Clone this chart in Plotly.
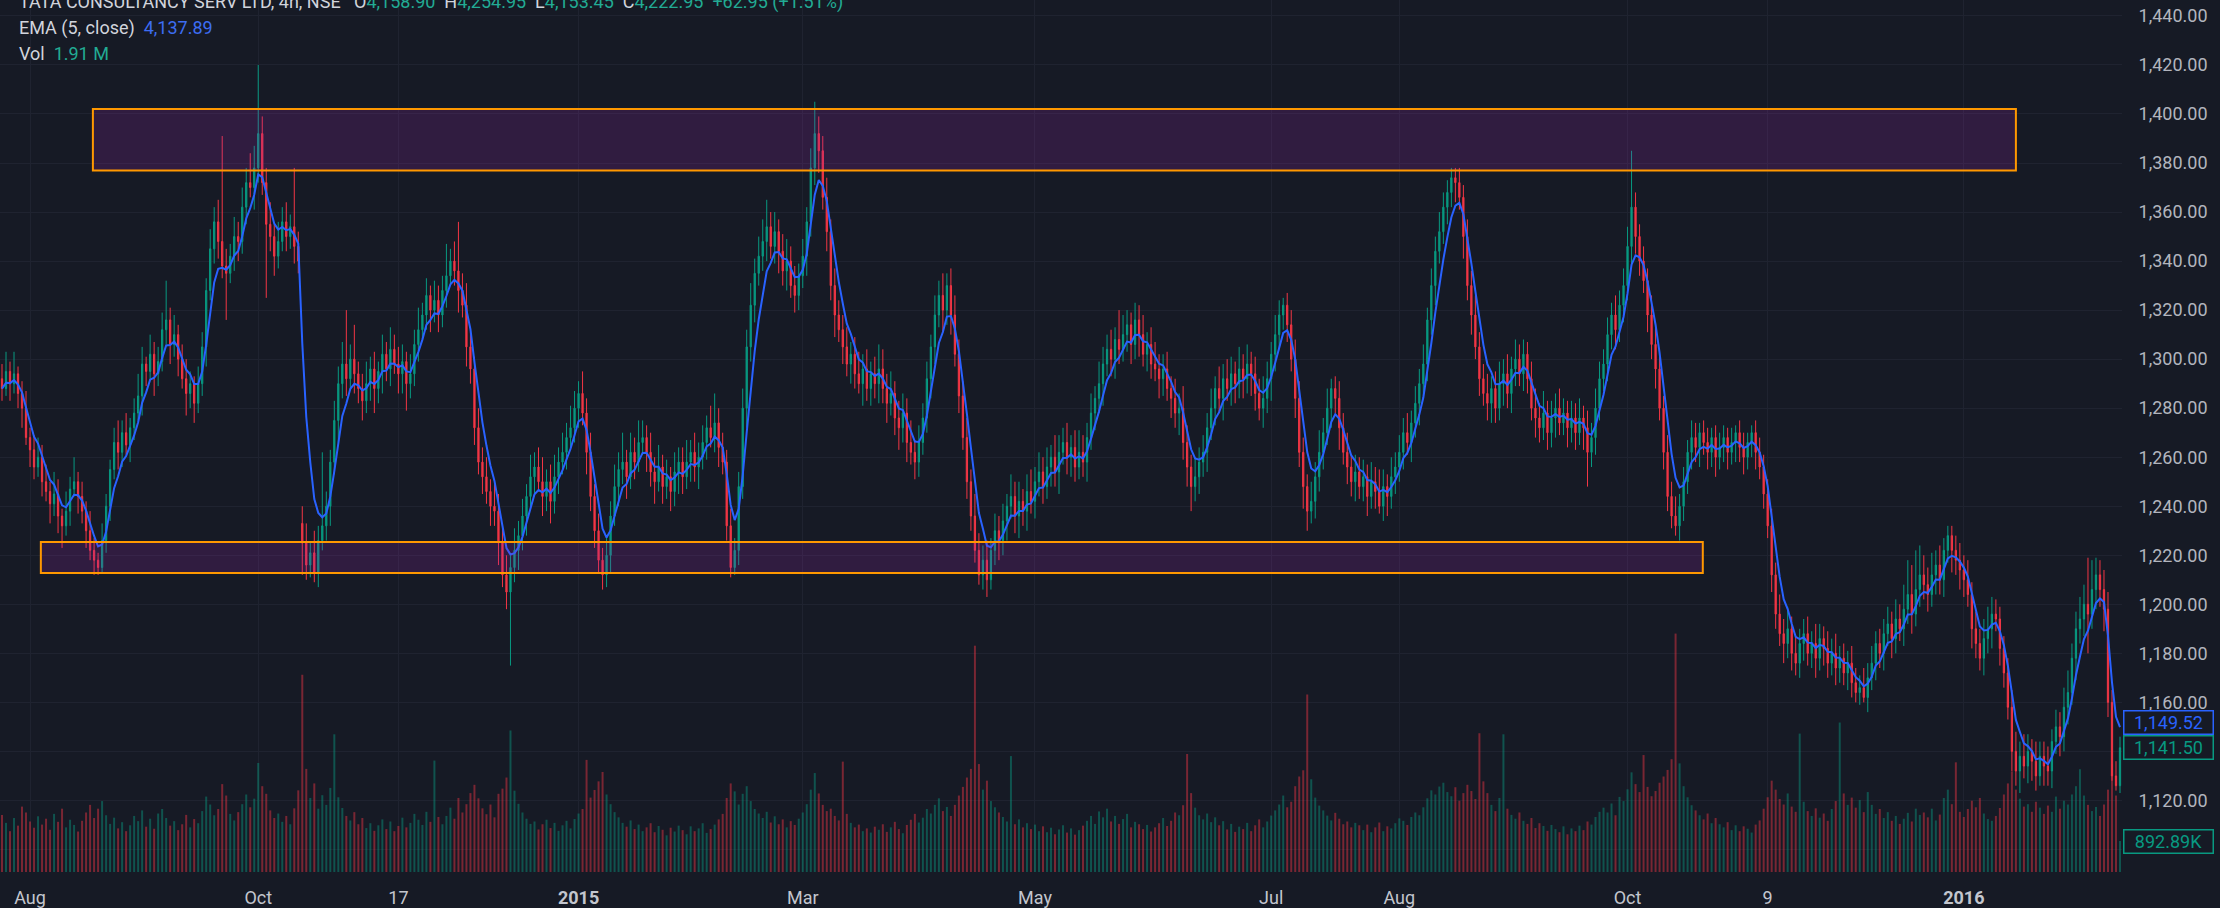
import plotly.graph_objects as go
import pandas as pd

# ---------------- data ----------------
open_ = [
    1292, 1288, 1295, 1290, 1294, 1286, 1280, 1268, 1263, 1256,
    1260, 1250, 1246, 1241, 1245, 1236, 1232, 1238, 1247, 1250,
    1244, 1238, 1230, 1222, 1218, 1215, 1226, 1240, 1255, 1266,
    1262, 1270, 1265, 1272, 1278, 1285, 1298, 1295, 1302, 1294,
    1299, 1312, 1316, 1306, 1310, 1300, 1292, 1286, 1290, 1282,
    1290, 1305, 1328, 1345, 1356, 1348, 1338, 1335, 1342, 1350,
    1348, 1362, 1372, 1370, 1378, 1392, 1372, 1355, 1350, 1342,
    1348, 1356, 1350, 1354, 1346, 1233, 1225, 1216, 1221, 1213,
    1226, 1232, 1240, 1258, 1275, 1290, 1298, 1292, 1300, 1294,
    1288, 1283, 1290, 1296, 1288, 1295, 1302, 1296, 1304, 1298,
    1294, 1299, 1290, 1294, 1306, 1312, 1318, 1326, 1320, 1324,
    1318, 1328, 1334, 1340, 1336, 1328, 1322, 1305, 1296, 1272,
    1258, 1252, 1246, 1240, 1238, 1225, 1212, 1205, 1215, 1222,
    1228, 1236, 1244, 1252, 1256, 1250, 1244, 1250, 1242, 1252,
    1258, 1262, 1268, 1272, 1280, 1286, 1278, 1262, 1244, 1230,
    1218, 1212, 1220, 1236, 1248, 1255, 1258, 1252, 1262, 1258,
    1266, 1268, 1262, 1254, 1250, 1256, 1248, 1252, 1246, 1254,
    1258, 1252, 1258, 1262, 1256, 1260, 1266, 1272, 1268, 1274,
    1264, 1258, 1232, 1215, 1222, 1248, 1280, 1305, 1322, 1335,
    1342, 1348, 1354, 1346, 1352, 1344, 1336, 1340, 1330, 1326,
    1334, 1342, 1356, 1378, 1392, 1385, 1366, 1352, 1330, 1318,
    1312, 1305, 1298, 1302, 1294, 1290, 1296, 1288, 1294, 1290,
    1296, 1288, 1282, 1286, 1276, 1272, 1278, 1266, 1262, 1258,
    1266, 1276, 1292, 1305, 1318, 1326, 1320, 1330, 1318, 1302,
    1285, 1268, 1250, 1236, 1222, 1212, 1218, 1210, 1222, 1230,
    1226, 1234, 1240, 1244, 1236, 1242, 1238, 1246, 1242, 1250,
    1254, 1248, 1256, 1260, 1254, 1262, 1266, 1260, 1264, 1256,
    1262, 1258, 1268, 1278, 1284, 1290, 1298, 1304, 1300, 1308,
    1304, 1310, 1314, 1306, 1316, 1310, 1302, 1306, 1298, 1296,
    1292, 1296, 1288, 1284, 1278, 1280, 1266, 1256, 1248, 1252,
    1258, 1262, 1272, 1280, 1288, 1284, 1292, 1288, 1294, 1290,
    1296, 1292, 1298, 1294, 1286, 1280, 1284, 1292, 1302, 1310,
    1318, 1322, 1314, 1300, 1284, 1262, 1248, 1238, 1242, 1252,
    1262, 1270, 1280, 1288, 1284, 1272, 1262, 1256, 1250, 1254,
    1248, 1252, 1244, 1250, 1246, 1240, 1248, 1244, 1252, 1256,
    1262, 1270, 1266, 1274, 1282, 1290, 1298, 1316, 1330, 1344,
    1352, 1362, 1368, 1374, 1372, 1366, 1350, 1330, 1318, 1305,
    1292, 1286, 1282, 1288, 1280, 1290, 1294, 1286, 1296, 1300,
    1294, 1302, 1292, 1280, 1276, 1272, 1278, 1270, 1276, 1280,
    1274, 1278, 1272, 1276, 1270, 1276, 1272, 1262, 1268, 1280,
    1292, 1298, 1310, 1318, 1312, 1322, 1330, 1346, 1362, 1350,
    1340, 1332, 1318, 1306, 1296, 1280, 1262, 1244, 1236, 1232,
    1240, 1250, 1262, 1268, 1264, 1270, 1266, 1262, 1268, 1260,
    1264, 1268, 1262, 1266, 1270, 1264, 1260, 1266, 1270, 1262,
    1256, 1245, 1232, 1212, 1196, 1188, 1184, 1190, 1180, 1176,
    1184, 1188, 1180, 1184, 1178, 1186, 1182, 1176, 1180, 1174,
    1178, 1172, 1176, 1168, 1164, 1166, 1162, 1170, 1176, 1184,
    1180, 1188, 1192, 1186, 1194, 1190, 1198, 1204, 1196, 1206,
    1212, 1208, 1204, 1212, 1216, 1210, 1222, 1228, 1222, 1218,
    1214, 1210, 1204, 1190, 1184, 1178, 1186, 1190, 1196, 1194,
    1182, 1172, 1158, 1140, 1132, 1138, 1134, 1140, 1136, 1130,
    1138, 1134, 1132, 1144, 1150, 1146, 1158, 1164, 1178, 1190,
    1194, 1200, 1196, 1206, 1212, 1206, 1198, 1160, 1130, 1126,
]

high = [
    1298, 1303, 1299, 1303, 1297, 1291, 1287, 1272, 1269, 1268,
    1265, 1257, 1250, 1254, 1251, 1239, 1246, 1252, 1260, 1254,
    1250, 1242, 1238, 1227, 1221, 1233, 1245, 1259, 1272, 1275,
    1275, 1278, 1276, 1284, 1294, 1305, 1301, 1310, 1307, 1305,
    1319, 1332, 1321, 1318, 1314, 1306, 1300, 1295, 1293, 1297,
    1311, 1333, 1353, 1362, 1365, 1391, 1345, 1347, 1358, 1356,
    1370, 1378, 1384, 1387, 1420, 1399, 1378, 1364, 1355, 1356,
    1362, 1364, 1359, 1378, 1352, 1240, 1233, 1225, 1230, 1232,
    1262, 1246, 1263, 1283, 1297, 1307, 1320, 1306, 1314, 1299,
    1294, 1299, 1301, 1303, 1299, 1310, 1307, 1313, 1310, 1305,
    1306, 1303, 1302, 1312, 1321, 1323, 1333, 1330, 1332, 1330,
    1334, 1347, 1345, 1348, 1356, 1335, 1331, 1311, 1301, 1280,
    1264, 1260, 1251, 1249, 1245, 1231, 1220, 1220, 1231, 1234,
    1243, 1249, 1261, 1262, 1264, 1260, 1255, 1257, 1261, 1264,
    1270, 1274, 1281, 1287, 1291, 1295, 1284, 1270, 1249, 1237,
    1223, 1228, 1242, 1257, 1262, 1270, 1263, 1270, 1268, 1275,
    1275, 1273, 1270, 1260, 1265, 1261, 1259, 1256, 1262, 1264,
    1264, 1267, 1267, 1270, 1266, 1273, 1277, 1281, 1286, 1280,
    1270, 1263, 1239, 1227, 1254, 1288, 1312, 1331, 1341, 1350,
    1357, 1365, 1360, 1360, 1357, 1351, 1349, 1346, 1338, 1339,
    1349, 1362, 1386, 1405, 1399, 1391, 1374, 1357, 1337, 1324,
    1318, 1313, 1307, 1309, 1303, 1302, 1304, 1299, 1301, 1306,
    1304, 1294, 1295, 1291, 1283, 1286, 1284, 1275, 1267, 1273,
    1282, 1299, 1310, 1326, 1332, 1335, 1335, 1337, 1326, 1308,
    1291, 1276, 1255, 1245, 1229, 1224, 1226, 1227, 1237, 1236,
    1241, 1245, 1253, 1250, 1250, 1247, 1253, 1255, 1256, 1262,
    1260, 1264, 1265, 1269, 1269, 1272, 1274, 1269, 1271, 1271,
    1269, 1274, 1286, 1289, 1299, 1305, 1310, 1312, 1313, 1320,
    1318, 1320, 1319, 1323, 1322, 1318, 1311, 1313, 1307, 1302,
    1302, 1303, 1293, 1292, 1286, 1289, 1273, 1261, 1260, 1264,
    1269, 1278, 1288, 1293, 1297, 1298, 1300, 1301, 1299, 1305,
    1302, 1306, 1303, 1301, 1292, 1293, 1299, 1307, 1318, 1324,
    1325, 1327, 1320, 1308, 1291, 1268, 1253, 1250, 1258, 1271,
    1276, 1288, 1292, 1293, 1291, 1278, 1270, 1261, 1261, 1260,
    1259, 1257, 1258, 1256, 1255, 1255, 1253, 1260, 1262, 1269,
    1276, 1278, 1279, 1289, 1296, 1306, 1321, 1337, 1350, 1360,
    1368, 1373, 1378, 1378, 1378, 1371, 1357, 1336, 1326, 1311,
    1298, 1294, 1293, 1295, 1299, 1300, 1302, 1301, 1308, 1306,
    1308, 1307, 1299, 1288, 1282, 1287, 1283, 1283, 1286, 1288,
    1284, 1283, 1283, 1282, 1284, 1281, 1279, 1274, 1288, 1299,
    1304, 1317, 1323, 1326, 1328, 1337, 1354, 1385, 1368, 1355,
    1346, 1337, 1326, 1313, 1302, 1285, 1269, 1250, 1244, 1245,
    1256, 1267, 1275, 1274, 1274, 1275, 1272, 1272, 1273, 1270,
    1273, 1272, 1272, 1273, 1275, 1270, 1270, 1273, 1275, 1268,
    1261, 1251, 1239, 1217, 1204, 1194, 1199, 1195, 1187, 1190,
    1194, 1195, 1189, 1192, 1192, 1191, 1189, 1186, 1188, 1183,
    1184, 1181, 1183, 1174, 1171, 1174, 1176, 1183, 1189, 1190,
    1194, 1199, 1197, 1202, 1200, 1208, 1218, 1216, 1222, 1224,
    1220, 1215, 1221, 1222, 1224, 1227, 1232, 1232, 1228, 1225,
    1220, 1218, 1209, 1197, 1190, 1194, 1199, 1203, 1202, 1199,
    1187, 1178, 1165, 1148, 1144, 1147, 1147, 1145, 1144, 1144,
    1144, 1142, 1149, 1157, 1156, 1166, 1173, 1184, 1197, 1203,
    1208, 1219, 1218, 1219, 1218, 1214, 1205, 1165, 1136, 1146,
]

low = [
    1283, 1285, 1283, 1286, 1280, 1272, 1265, 1256, 1251, 1252,
    1244, 1242, 1233, 1236, 1229, 1223, 1228, 1232, 1244, 1237,
    1233, 1223, 1218, 1212, 1212, 1213, 1221, 1234, 1251, 1255,
    1256, 1261, 1258, 1267, 1275, 1277, 1289, 1291, 1285, 1289,
    1295, 1306, 1298, 1301, 1293, 1288, 1277, 1280, 1274, 1278,
    1285, 1297, 1324, 1339, 1341, 1333, 1316, 1331, 1336, 1340,
    1343, 1355, 1366, 1361, 1372, 1367, 1325, 1344, 1334, 1337,
    1344, 1344, 1345, 1339, 1335, 1212, 1210, 1211, 1209, 1207,
    1222, 1226, 1232, 1253, 1266, 1284, 1285, 1288, 1286, 1282,
    1275, 1278, 1283, 1278, 1282, 1286, 1291, 1289, 1294, 1286,
    1286, 1279, 1284, 1289, 1299, 1308, 1312, 1311, 1315, 1311,
    1313, 1321, 1330, 1330, 1319, 1317, 1297, 1290, 1265, 1253,
    1245, 1241, 1232, 1232, 1216, 1207, 1198, 1175, 1209, 1214,
    1222, 1228, 1239, 1245, 1246, 1236, 1238, 1233, 1237, 1245,
    1253, 1255, 1264, 1266, 1272, 1273, 1253, 1238, 1223, 1213,
    1206, 1207, 1213, 1232, 1240, 1249, 1243, 1247, 1251, 1254,
    1261, 1254, 1248, 1241, 1246, 1241, 1243, 1238, 1240, 1245,
    1245, 1247, 1250, 1250, 1247, 1255, 1259, 1264, 1262, 1256,
    1253, 1226, 1211, 1212, 1216, 1243, 1272, 1299, 1315, 1330,
    1336, 1340, 1341, 1339, 1335, 1330, 1328, 1325, 1319, 1320,
    1329, 1334, 1350, 1371, 1376, 1361, 1344, 1324, 1309, 1307,
    1298, 1293, 1290, 1288, 1286, 1281, 1283, 1281, 1284, 1282,
    1282, 1274, 1277, 1269, 1263, 1266, 1258, 1257, 1251, 1252,
    1261, 1270, 1284, 1298, 1313, 1311, 1314, 1310, 1297, 1278,
    1263, 1243, 1230, 1217, 1208, 1206, 1203, 1206, 1216, 1218,
    1220, 1226, 1235, 1229, 1227, 1232, 1230, 1237, 1235, 1244,
    1241, 1243, 1248, 1248, 1245, 1257, 1253, 1252, 1250, 1251,
    1252, 1250, 1263, 1271, 1278, 1281, 1293, 1293, 1292, 1298,
    1299, 1303, 1298, 1300, 1301, 1297, 1295, 1292, 1291, 1284,
    1285, 1283, 1276, 1272, 1269, 1259, 1248, 1238, 1242, 1245,
    1252, 1254, 1267, 1273, 1278, 1275, 1283, 1281, 1282, 1284,
    1284, 1286, 1285, 1279, 1275, 1272, 1278, 1283, 1295, 1304,
    1312, 1307, 1295, 1276, 1256, 1239, 1230, 1233, 1235, 1246,
    1255, 1265, 1272, 1278, 1263, 1257, 1249, 1244, 1242, 1243,
    1242, 1236, 1239, 1239, 1237, 1234, 1236, 1239, 1245, 1250,
    1255, 1261, 1258, 1268, 1273, 1285, 1291, 1310, 1322, 1339,
    1347, 1355, 1362, 1364, 1361, 1341, 1324, 1310, 1300, 1285,
    1281, 1275, 1274, 1274, 1275, 1281, 1280, 1278, 1289, 1289,
    1287, 1286, 1275, 1268, 1266, 1267, 1263, 1264, 1268, 1269,
    1269, 1264, 1266, 1263, 1265, 1263, 1248, 1256, 1261, 1275,
    1287, 1291, 1304, 1304, 1307, 1315, 1324, 1338, 1343, 1334,
    1327, 1311, 1300, 1288, 1275, 1255, 1238, 1231, 1228, 1226,
    1234, 1245, 1255, 1258, 1256, 1261, 1255, 1256, 1252, 1255,
    1258, 1255, 1257, 1258, 1258, 1253, 1255, 1260, 1255, 1251,
    1239, 1227, 1205, 1190, 1183, 1176, 1178, 1173, 1171, 1170,
    1177, 1175, 1174, 1170, 1173, 1175, 1170, 1171, 1167, 1168,
    1167, 1165, 1162, 1160, 1159, 1160, 1156, 1165, 1169, 1174,
    1173, 1183, 1178, 1180, 1185, 1183, 1192, 1188, 1191, 1199,
    1202, 1197, 1199, 1204, 1204, 1203, 1217, 1213, 1212, 1206,
    1203, 1199, 1182, 1178, 1173, 1171, 1180, 1182, 1189, 1175,
    1166, 1153, 1132, 1126, 1123, 1129, 1127, 1128, 1124, 1126,
    1126, 1126, 1125, 1139, 1138, 1140, 1151, 1159, 1169, 1184,
    1187, 1180, 1190, 1198, 1199, 1189, 1154, 1128, 1124, 1123,
]

close = [
    1288, 1295, 1290, 1294, 1286, 1280, 1268, 1263, 1256, 1260,
    1250, 1246, 1241, 1245, 1236, 1232, 1238, 1247, 1250, 1244,
    1238, 1230, 1222, 1218, 1215, 1226, 1240, 1255, 1266, 1262,
    1270, 1265, 1272, 1278, 1285, 1298, 1295, 1302, 1294, 1299,
    1312, 1316, 1306, 1310, 1300, 1292, 1286, 1290, 1282, 1290,
    1305, 1328, 1345, 1356, 1348, 1338, 1335, 1342, 1350, 1348,
    1362, 1372, 1370, 1378, 1392, 1372, 1355, 1350, 1342, 1348,
    1356, 1350, 1354, 1346, 1340, 1225, 1216, 1221, 1213, 1226,
    1232, 1240, 1258, 1275, 1290, 1298, 1292, 1300, 1294, 1288,
    1283, 1290, 1296, 1288, 1295, 1302, 1296, 1304, 1298, 1294,
    1299, 1290, 1294, 1306, 1312, 1318, 1326, 1320, 1324, 1318,
    1328, 1334, 1340, 1336, 1328, 1322, 1305, 1296, 1272, 1258,
    1252, 1246, 1240, 1238, 1225, 1212, 1205, 1215, 1222, 1228,
    1236, 1244, 1252, 1256, 1250, 1244, 1250, 1242, 1252, 1258,
    1262, 1268, 1272, 1280, 1286, 1278, 1262, 1244, 1230, 1218,
    1212, 1220, 1236, 1248, 1255, 1258, 1252, 1262, 1258, 1266,
    1268, 1262, 1254, 1250, 1256, 1248, 1252, 1246, 1254, 1258,
    1252, 1258, 1262, 1256, 1260, 1266, 1272, 1268, 1274, 1264,
    1258, 1232, 1215, 1222, 1248, 1280, 1305, 1322, 1335, 1342,
    1348, 1354, 1346, 1352, 1344, 1336, 1340, 1330, 1326, 1334,
    1342, 1356, 1378, 1392, 1385, 1366, 1352, 1330, 1318, 1312,
    1305, 1298, 1302, 1294, 1290, 1296, 1288, 1294, 1290, 1296,
    1288, 1282, 1286, 1276, 1272, 1278, 1266, 1262, 1258, 1266,
    1276, 1292, 1305, 1318, 1326, 1320, 1330, 1318, 1302, 1285,
    1268, 1250, 1236, 1222, 1212, 1218, 1210, 1222, 1230, 1226,
    1234, 1240, 1244, 1236, 1242, 1238, 1246, 1242, 1250, 1254,
    1248, 1256, 1260, 1254, 1262, 1266, 1260, 1264, 1256, 1262,
    1258, 1268, 1278, 1284, 1290, 1298, 1304, 1300, 1308, 1304,
    1310, 1314, 1306, 1316, 1310, 1302, 1306, 1298, 1296, 1292,
    1296, 1288, 1284, 1278, 1280, 1266, 1256, 1248, 1252, 1258,
    1262, 1272, 1280, 1288, 1284, 1292, 1288, 1294, 1290, 1296,
    1292, 1298, 1294, 1286, 1280, 1284, 1292, 1302, 1310, 1318,
    1322, 1314, 1300, 1284, 1262, 1248, 1238, 1242, 1252, 1262,
    1270, 1280, 1288, 1284, 1272, 1262, 1256, 1250, 1254, 1248,
    1252, 1244, 1250, 1246, 1240, 1248, 1244, 1252, 1256, 1262,
    1270, 1266, 1274, 1282, 1290, 1298, 1316, 1330, 1344, 1352,
    1362, 1368, 1374, 1372, 1366, 1350, 1330, 1318, 1305, 1292,
    1286, 1282, 1288, 1280, 1290, 1294, 1286, 1296, 1300, 1294,
    1302, 1292, 1280, 1276, 1272, 1278, 1270, 1276, 1280, 1274,
    1278, 1272, 1276, 1270, 1276, 1272, 1262, 1268, 1280, 1292,
    1298, 1310, 1318, 1312, 1322, 1330, 1346, 1362, 1350, 1340,
    1332, 1318, 1306, 1296, 1280, 1262, 1244, 1236, 1232, 1240,
    1250, 1262, 1268, 1264, 1270, 1266, 1262, 1268, 1260, 1264,
    1268, 1262, 1266, 1270, 1264, 1260, 1266, 1270, 1262, 1256,
    1245, 1232, 1212, 1196, 1188, 1184, 1190, 1180, 1176, 1184,
    1188, 1180, 1184, 1178, 1186, 1182, 1176, 1180, 1174, 1178,
    1172, 1176, 1168, 1164, 1166, 1162, 1170, 1176, 1184, 1180,
    1188, 1192, 1186, 1194, 1190, 1198, 1204, 1196, 1206, 1212,
    1208, 1204, 1212, 1216, 1210, 1222, 1228, 1222, 1218, 1214,
    1210, 1204, 1190, 1184, 1178, 1186, 1190, 1196, 1194, 1182,
    1172, 1158, 1140, 1132, 1138, 1134, 1140, 1136, 1130, 1138,
    1134, 1132, 1144, 1150, 1146, 1158, 1164, 1178, 1190, 1194,
    1200, 1196, 1206, 1212, 1206, 1198, 1160, 1130, 1126, 1141.5,
]

volume_k = [
    1650, 1420, 1180, 1560, 1340, 1890, 1720, 1460, 1280, 1610,
    1370, 1540, 1220, 1680, 1450, 1830, 1290, 1510, 1360, 1170,
    1480, 1720, 1940, 1560, 1830, 2050, 1640, 1390, 1570, 1260,
    1440, 1180, 1350, 1620, 1470, 1780, 1310, 1540, 1250, 1690,
    1820, 1560, 1340, 1470, 1210, 1380, 1650, 1290, 1530, 1410,
    1760, 2180, 1950, 1640, 1820, 2540, 2210, 1680, 1490, 1730,
    1960, 2240, 1870, 2120, 3150, 2480, 2260, 1780, 1560, 1690,
    1450, 1620, 1380, 1840, 2360, 5700, 2980, 2140, 2560, 1830,
    2220, 1940, 2430, 3980, 2160, 1850, 1620, 1490, 1730, 1380,
    1560, 1270, 1410, 1190, 1350, 1520, 1240, 1460, 1180, 1330,
    1570, 1290, 1420, 1680, 1510, 1360, 1740, 1450, 3220, 1590,
    1380, 1620, 1860, 1540, 2140, 1720, 1960, 2280, 2520, 2130,
    1840, 1670, 1950, 1580, 2260, 2410, 2730, 4090, 2350, 1970,
    1720, 1540, 1390, 1460, 1230, 1380, 1510, 1270, 1420, 1190,
    1350, 1480, 1260, 1530, 1690, 1820, 3240, 2150, 2370, 2620,
    2890, 2240, 1960, 1730, 1580, 1420, 1310, 1490, 1240, 1370,
    1180, 1290, 1410, 1150, 1330, 1220, 1060, 1280, 1170, 1340,
    1210, 1090, 1320, 1180, 1260, 1410, 1130, 1240, 1370, 1520,
    1680, 2140, 2560, 2330, 1950, 2260, 2480, 2050, 1820, 1690,
    1560, 1740, 1430, 1610, 1380, 1520, 1290, 1470, 1360, 1540,
    1720, 1960, 2380, 2860, 2270, 1940, 1760, 1830, 1620, 1490,
    3190, 1680, 1420, 1290, 1370, 1180, 1260, 1140, 1310, 1220,
    1380, 1160, 1290, 1450, 1240, 1120, 1360, 1510, 1680, 1430,
    1570, 1820, 1690, 1940, 2130, 1760, 1880, 1620, 1940, 2210,
    2460, 2730, 2980, 6540, 3120, 2380, 2640, 2050, 1870, 1720,
    1590, 1460, 3350, 1380, 1520, 1290, 1410, 1240, 1370, 1180,
    1320, 1150, 1280, 1090, 1230, 1350, 1140, 1260, 1080, 1210,
    1340, 1480, 1620, 1390, 1750, 1580, 1830, 1460, 1620, 1390,
    1530, 1680, 1290, 1450, 1380, 1240, 1360, 1170, 1290, 1410,
    1560, 1330, 1480, 1720, 1640, 1930, 3410, 2280, 1860, 1640,
    1520, 1690, 1440, 1580, 1350, 1470, 1230, 1390, 1160, 1310,
    1240, 1420, 1180, 1350, 1520, 1290, 1460, 1630, 1780, 1950,
    2210, 1870, 2030, 2480, 2760, 2940, 5130, 2680, 2150, 1920,
    1780, 1630, 1490, 1710, 1540, 1380, 1460, 1290, 1420, 1350,
    1210, 1370, 1150, 1290, 1430, 1180, 1320, 1260, 1410, 1550,
    1480, 1360, 1590, 1720, 1640, 1870, 2130, 2360, 2240, 2470,
    2580, 2310, 2190, 2450, 2060, 2280, 2520, 2340, 2110, 4010,
    2620, 2280, 1940, 1760, 2140, 3980, 1830, 1650, 1540, 1720,
    1480, 1390, 1560, 1270, 1410, 1330, 1190, 1360, 1240, 1150,
    1320, 1090, 1260, 1180, 1340, 1210, 1460, 1370, 1590, 1740,
    1860, 1720, 1980, 1640, 2170, 2050, 2390, 2880, 2540, 2310,
    3380, 2460, 2190, 2340, 2580, 2760, 2950, 3260, 6890, 3140,
    2480, 2160, 1930, 1780, 1640, 1520, 1690, 1410, 1560, 1380,
    1290, 1440, 1210, 1350, 1180, 1320, 1250, 1140, 1370, 1490,
    1830, 2160, 2640, 2380, 2110, 1950, 2270, 1890, 1740, 4000,
    2030, 1760, 1620, 1840, 1570, 1690, 1480, 1820, 2050, 4320,
    2270, 1940, 2150, 1860, 2080, 1730, 2310, 1940, 1680, 1820,
    1560, 1730, 1480, 1620, 1390, 1540, 1710, 1460, 1830, 1650,
    1720, 1580, 1830, 1490, 1660, 2140, 2380, 1960, 3170, 1740,
    1590, 1820, 2060, 1870, 2140, 1690, 1530, 1480, 1620, 1850,
    2240, 2560, 2910, 2380, 2120, 1890, 1960, 1740, 2030, 1860,
    1680, 1920, 1740, 2180, 1830, 2060, 1950, 2240, 2480, 2970,
    2210, 1940, 1760, 1880, 1620, 1950, 2380, 3120, 2210, 892.89,
]

# time-axis labels (bar index of each label) and their texts
tick_bar = [7, 64, 99, 144, 200, 258, 317, 349, 406, 441, 490]
tick_text = ["Aug", "Oct", "17", "<b>2015</b>", "Mar", "May", "Jul",
             "Aug", "Oct", "9", "<b>2016</b>"]

# price-scale grid levels and labels (1,140 and 1,100 are hidden under the value tags)
price_ticks = [1100, 1120, 1140, 1160, 1180, 1200, 1220, 1240, 1260,
               1280, 1300, 1320, 1340, 1360, 1380, 1400, 1420, 1440]
hidden_price_labels = [1100, 1140]

# drawn zones (bar-index span, price span)
zone_bar_start = [22.7, 9.7]
zone_bar_end = [503.0, 424.8]
zone_price_low = [1377.0, 1212.8]
zone_price_high = [1402.0, 1225.4]

# header texts
symbol_text = "TATA CONSULTANCY SERV LTD, 4h, NSE"
ohlc_text = ["4,158.90", "4,254.95", "4,153.45", "4,222.95"]
change_text = "+62.95 (+1.51%)"
ema_legend_value = "4,137.89"
vol_legend_value = "1.91 M"
ema_last = 1149.52
close_last = 1141.50
vol_last = 892.89

# ---------------- figure ----------------
N = len(close)
assert len(open_) == N and len(high) == N and len(low) == N and len(volume_k) == N, (
    len(open_), len(high), len(low), len(close), len(volume_k))

BG = "#161a25"
GRID = "#1f2330"
UP = "#089981"
DOWN = "#f23645"
BLUE = "#2962ff"
TXT = "#b2b5be"
FONT = "Roboto"

bars = list(range(N))
ema = pd.Series(close).ewm(span=5, adjust=False).mean()   # EMA (5, close)

vol_colors = ["rgba(8,153,129,0.45)" if c >= o else "rgba(242,54,69,0.45)"
              for o, c in zip(open_, close)]

fig = go.Figure()

fig.add_trace(go.Bar(
    x=bars, y=volume_k, marker=dict(color=vol_colors, line=dict(width=0)),
    width=0.5, yaxis="y", hoverinfo="skip"))

fig.add_trace(go.Candlestick(
    x=bars, open=open_, high=high, low=low, close=close, yaxis="y2",
    increasing=dict(line=dict(color=UP, width=1), fillcolor=UP),
    decreasing=dict(line=dict(color=DOWN, width=1), fillcolor=DOWN),
    whiskerwidth=0, hoverinfo="skip"))

fig.add_trace(go.Scatter(
    x=bars, y=ema, mode="lines", yaxis="y2",
    line=dict(color=BLUE, width=2), hoverinfo="skip"))

for x0, x1, y0, y1 in zip(zone_bar_start, zone_bar_end, zone_price_low, zone_price_high):
    fig.add_shape(type="rect", xref="x", yref="y2", x0=x0, x1=x1, y0=y0, y1=y1,
                  line=dict(color="#ff9800", width=2),
                  fillcolor="rgba(156,39,176,0.2)", layer="above")

fig.update_layout(
    width=2220, height=908,
    margin=dict(l=0, r=98, t=0, b=33),
    paper_bgcolor=BG, plot_bgcolor=BG,
    showlegend=False, hovermode=False,
    boxgap=0.55, barmode="overlay",
    font=dict(family=FONT, size=18, color=TXT),
    xaxis=dict(
        range=[-0.5, N - 0.5], tickmode="array", tickvals=tick_bar, ticktext=tick_text,
        showgrid=True, gridcolor=GRID, gridwidth=1, zeroline=False, showline=False,
        ticks="outside", ticklen=9, tickcolor="rgba(0,0,0,0)",
        tickfont=dict(family=FONT, size=18, color="#c3c6ce"),
        rangeslider=dict(visible=False), fixedrange=True),
    yaxis=dict(range=[0, 25200], visible=False, showgrid=False, fixedrange=True),
    yaxis2=dict(
        overlaying="y", side="right", anchor="x", range=[1090.8, 1446.5],
        tickmode="array", tickvals=price_ticks,
        ticktext=["" if v in hidden_price_labels else f"{v:,.2f}" for v in price_ticks],
        showgrid=True, gridcolor=GRID, gridwidth=1, zeroline=False, showline=False,
        ticks="outside", ticklen=12, tickcolor="rgba(0,0,0,0)",
        tickfont=dict(family=FONT, size=18, color=TXT), fixedrange=True),
)

G = "#22ab94"
NB = "\u00a0"
line1 = (symbol_text + NB * 3
         + "O" + f"<span style='color:{G}'>{ohlc_text[0]}</span>" + NB * 2
         + "H" + f"<span style='color:{G}'>{ohlc_text[1]}</span>" + NB * 2
         + "L" + f"<span style='color:{G}'>{ohlc_text[2]}</span>" + NB * 2
         + "C" + f"<span style='color:{G}'>{ohlc_text[3]}</span>" + NB * 2
         + f"<span style='color:{G}'>{change_text}</span>")
line2 = "EMA (5, close)" + NB * 2 + f"<span style='color:#3d6df2'>{ema_legend_value}</span>"
line3 = "Vol" + NB * 2 + f"<span style='color:{G}'>{vol_legend_value}</span>"

for txt, shift in [(line1, -2), (line2, -28), (line3, -53)]:
    fig.add_annotation(text=txt, xref="paper", yref="paper", x=0, y=1,
                       xanchor="left", yanchor="middle", xshift=17, yshift=shift,
                       showarrow=False, font=dict(family=FONT, size=18, color="#d1d4dc"))

# price-scale value labels
def value_label(text, y, yref, color, yshift=0):
    fig.add_annotation(text=text, xref="paper", yref=yref, x=1, y=y,
                       xanchor="left", yanchor="middle", xshift=1, yshift=yshift,
                       showarrow=False, font=dict(family=FONT, size=18, color=color),
                       bgcolor=BG, bordercolor=color, borderwidth=1.5, borderpad=1,
                       width=86, height=20, align="center")

value_label(f"{ema_last:,.2f}", ema_last, "y2", BLUE, yshift=6)
value_label(f"{close_last:,.2f}", close_last, "y2", UP)
value_label(f"{vol_last:.2f}K", vol_last, "y", UP)

fig.write_html("out.html", config={"displayModeBar": False},
               post_script="document.body.style.margin='0';"
                           "document.body.style.overflow='hidden';")
